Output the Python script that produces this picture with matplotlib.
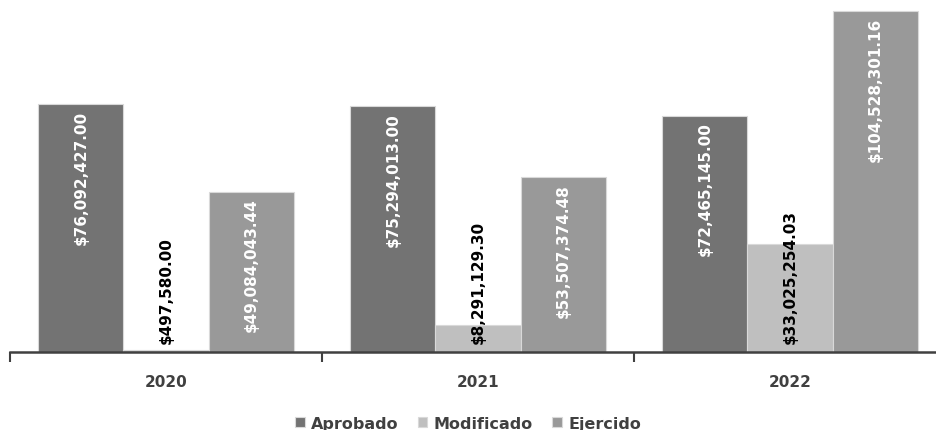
import matplotlib.pyplot as plt
import numpy as np

years = ["2020", "2021", "2022"]
series = ["Aprobado", "Modificado", "Ejercido"]
aprobado = [76092427.00, 75294013.00, 72465145.00]
modificado = [497580.00, 8291129.30, 33025254.03]
ejercido = [49084043.44, 53507374.48, 104528301.16]
colors = ["#737373", "#bfbfbf", "#999999"]
label_colors = ["white", "black", "white"]
label_pos = ["end", "base", "end"]

fig = plt.figure(figsize=(9.36, 4.31), dpi=100)
ax = fig.add_axes([10 / 936, 78 / 431, 936 / 936, 353 / 431])

x = np.arange(len(years))
width = 0.2725
values = [aprobado, modificado, ejercido]
ymax = 108.2e6

for i, (name, vals) in enumerate(zip(series, values)):
    pos = x + (i - 1) * width
    bars = ax.bar(pos, vals, width=width, color=colors[i], edgecolor="#d9d9d9",
                  linewidth=0.8, label=name)
    for b, v in zip(bars, vals):
        txt = "${:,.2f}".format(v)
        cx = b.get_x() + b.get_width() / 2
        if label_pos[i] == "end":
            ax.text(cx, v - 0.016 * ymax, txt, rotation=90, ha="center", va="top",
                    color=label_colors[i], fontsize=11, fontweight="bold")
        else:
            ax.text(cx, 0.025 * ymax, txt, rotation=90, ha="center", va="bottom",
                    color=label_colors[i], fontsize=11, fontweight="bold")

ax.set_xlim(-0.5, 2.5)
ax.set_ylim(0, ymax)
ax.set_yticks([])
for s in ["top", "right", "left"]:
    ax.spines[s].set_visible(False)
ax.spines["bottom"].set_color("#404040")
ax.spines["bottom"].set_linewidth(1.8)

ax.set_xticks([-0.5, 0.5, 1.5, 2.5])
ax.set_xticklabels([])
ax.tick_params(axis="x", which="major", length=7, width=1.5, color="#404040", direction="out")
ax.set_xticks(x, minor=True)
ax.set_xticklabels(years, minor=True, fontsize=11, fontweight="bold", color="#404040")
ax.tick_params(axis="x", which="minor", length=0, pad=16)

fig.legend(loc="lower center", bbox_to_anchor=(0.5, -0.035), ncol=3, frameon=False,
           handlelength=0.6, handleheight=0.6, handletextpad=0.4, columnspacing=1.2,
           prop={"size": 11.5, "weight": "bold"}, labelcolor="#404040")

fig.savefig("out.png", dpi=100)
